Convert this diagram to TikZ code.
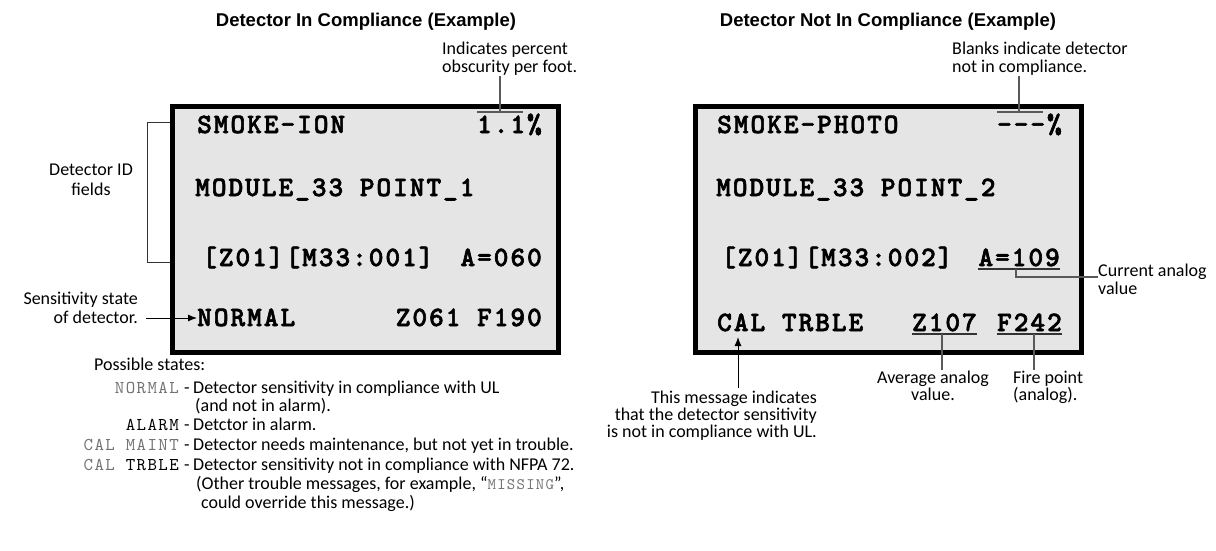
\documentclass[tikz,border=0pt]{standalone}
\usepackage{fontspec}
\setmainfont{Liberation Sans}
\newfontfamily\lcdf{lmmonolt10-bold.otf}[LetterSpace=7,FakeBold=2.2]
\newfontfamily\labf{lmmono10-regular.otf}[LetterSpace=8]
\newfontfamily\notef{Carlito}
\usetikzlibrary{arrows.meta,calc}
\definecolor{lcdgray}{gray}{0.9}
\definecolor{leadgray}{gray}{0.35}
\definecolor{labgray}{gray}{0.45}
\begin{document}
\begin{tikzpicture}[x=1pt,y=-1pt,
  lcdbox/.style={draw=black, line width=4.5pt, fill=lcdgray, inner sep=0pt,
    minimum width=386pt, minimum height=246pt, anchor=north west},
  lcd/.style={font={\lcdf\fontsize{28pt}{28pt}\selectfont}, inner sep=0pt},
  title/.style={font={\bfseries\fontsize{18.5pt}{20pt}\selectfont}, inner sep=0pt, anchor=base},
  note/.style={font={\notef\fontsize{18pt}{19pt}\selectfont}, inner sep=0pt},
  lab/.style={font={\labf\fontsize{18pt}{18pt}\selectfont}, inner sep=0pt, anchor=base east},
  leader/.style={draw=leadgray, line width=1.2pt},
  uline/.style={draw=black!80, line width=1.2pt},
  arr/.style={draw=black, line width=1pt, -{Latex[length=9pt,width=7pt]}}
]
\path[fill=white, use as bounding box] (0,0) rectangle (1216,551);

% titles
\node[title] (titleL) at (366,27) {Detector In Compliance (Example)};
\node[title] (titleR) at (888,27) {Detector Not In Compliance (Example)};

% LCD boxes
\node[lcdbox] (boxL) at (170,104) {};
\node[lcdbox] (boxR) at (693,104) {};

% left box text
\node[lcd, anchor=base west] (l1a) at (197,133) {SMOKE-ION};
\node[lcd, anchor=base east] (l1b) at (542,133) {1.1\%};
\node[lcd, anchor=base west] (l2) at (195,196) {MODULE\_33 POINT\_1};
\node[lcd, anchor=base west] (l3a) at (202,266) {[Z01][M33:001]};
\node[lcd, anchor=base east] (l3b) at (542,266) {A=060};
\node[lcd, anchor=base west] (l4a) at (197,326) {NORMAL};
\node[lcd, anchor=base east] (l4b) at (542,326) {Z061 F190};

% right box text
\node[lcd, anchor=base west] (r1a) at (717,133) {SMOKE-PHOTO};
\node[lcd, anchor=base east] (r1b) at (1062,133) {---\%};
\node[lcd, anchor=base west] (r2) at (716,196) {MODULE\_33 POINT\_2};
\node[lcd, anchor=base west] (r3a) at (721,266) {[Z01][M33:002]};
\node[lcd, anchor=base east] (r3b) at (1060,266) {A=109};
\node[lcd, anchor=base west] (r4a) at (717,331) {CAL TRBLE};
\node[lcd, anchor=base east] (r4b) at (977,331) {Z107};
\node[lcd, anchor=base east] (r4c) at (1062,331) {F242};

% percent note (left)
\node[note, anchor=base west] (obsA) at (442,55) {Indicates percent};
\node[note, anchor=base west] (obsB) at (442,73) {obscurity per foot.};
\coordinate (pctA) at (477,112);
\coordinate (pctB) at (523,112);
\coordinate (pctT) at (500,112);
\draw[leader] (pctA) -- (pctB);
\draw[leader] (pctT) -- (pctT |- obsB.south);

% detector id bracket
\node[note, anchor=base] (idA) at (91,175) {Detector ID};
\node[note, anchor=base] (idB) at (91,195) {fields};
\coordinate (brT) at (147,122);
\coordinate (brB) at (147,262);
\draw[draw=black!80, line width=1pt] (boxL.west |- brT) -- (brT) -- (brB) -- (boxL.west |- brB);

% sensitivity state
\node[note, anchor=base east] (sensA) at (138,304) {Sensitivity state};
\node[note, anchor=base east] (sensB) at (138,323) {of detector.};
\coordinate (sensS) at (146,318);
\draw[arr] (sensS) -- (l4a.west |- sensS);

% possible states
\node[note, anchor=base west] (poss) at (94,370) {Possible states:};
\node[lab, text=labgray] (sN) at (179,393) {NORMAL};
\node[note, anchor=base] (dN) at (187,393) {-};
\node[note, anchor=base west] (tN) at (193,393) {Detector sensitivity in compliance with UL};
\node[note, anchor=base west] (tN2) at (195,411) {(and not in alarm).};
\node[lab] (sA) at (179,430) {ALARM};
\node[note, anchor=base] (dA) at (187,430) {-};
\node[note, anchor=base west] (tA) at (193,430) {Detctor in alarm.};
\node[lab, text=labgray] (sM) at (179,450) {CAL MAINT};
\node[note, anchor=base] (dM) at (187,450) {-};
\node[note, anchor=base west] (tM) at (193,450) {Detector needs maintenance, but not yet in trouble.};
\node[lab] (sT) at (179,470) {{\color{labgray}CAL} TRBLE};
\node[note, anchor=base] (dT) at (187,470) {-};
\node[note, anchor=base west] (tT) at (193,470) {Detector sensitivity not in compliance with NFPA 72.};
\node[note, anchor=base west] (tT2) at (196,489) {(Other trouble messages, for example, “{\labf\fontsize{16pt}{16pt}\selectfont\color{labgray}MISSING}”,};
\node[note, anchor=base west] (tT3) at (201,508) {could override this message.)};

% blanks note (right)
\node[note, anchor=base west] (blkA) at (952,55) {Blanks indicate detector};
\node[note, anchor=base west] (blkB) at (952,73) {not in compliance.};
\coordinate (bA) at (997,112);
\coordinate (bB) at (1043,112);
\coordinate (bT) at (1019,112);
\draw[leader] (bA) -- (bB);
\draw[leader] (bT) -- (bT |- blkB.south);

% current analog value
\draw[uline] ($(r3b.base west)+(0,3)$) -- ($(r3b.base east)+(0,3)$);
\node[note, anchor=base west] (curA) at (1098,276) {Current analog};
\node[note, anchor=base west] (curB) at (1098,294) {value};
\coordinate (cT) at (1016,269);
\coordinate (cK) at (1016,277);
\draw[leader] (cT) -- (cK) -- (cK -| curA.west);

% average analog / fire point
\draw[uline] ($(r4b.base west)+(0,3)$) -- ($(r4b.base east)+(0,3)$);
\draw[uline] ($(r4c.base west)+(0,3)$) -- ($(r4c.base east)+(0,3)$);
\node[note, anchor=base] (avgA) at (933,383) {Average analog};
\node[note, anchor=base] (avgB) at (933,400) {value.};
\node[note, anchor=base west] (fireA) at (1013,383) {Fire point};
\node[note, anchor=base west] (fireB) at (1013,400) {(analog).};
\coordinate (zT) at (942,334);
\coordinate (fT) at (1034,334);
\draw[leader] (zT) -- (zT |- avgA.north);
\draw[leader] (fT) -- (fT |- fireA.north);

% CAL TRBLE message
\node[note, anchor=base east] (msgA) at (817,403) {This message indicates};
\node[note, anchor=base east] (msgB) at (817,420) {that the detector sensitivity};
\node[note, anchor=base east] (msgC) at (817,437) {is not in compliance with UL.};
\coordinate (calB) at (738,388);
\draw[arr] (calB) -- (738,337);
\end{tikzpicture}
\end{document}
